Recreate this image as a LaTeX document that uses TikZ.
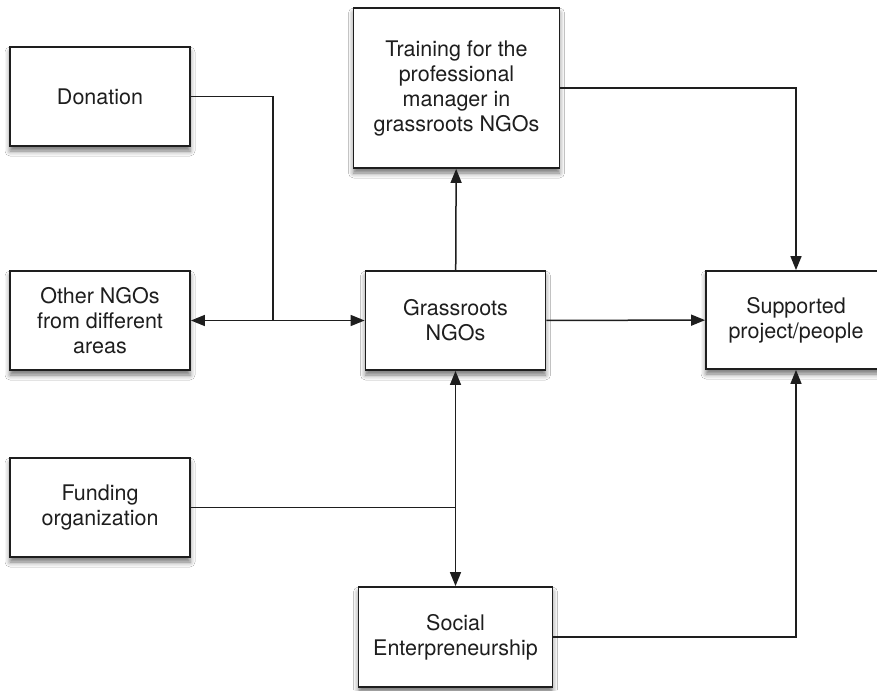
\documentclass[tikz,border=0pt]{standalone}
\usepackage{fontspec}
\setmainfont{TeX Gyre Heros}
\usetikzlibrary{arrows.meta,shadows.blur}
\definecolor{ink}{HTML}{1E1E1E}
\tikzset{
  box/.style={draw=ink, line width=1.8pt, fill=white, rectangle, align=center,
    text=ink, font=\fontsize{21.5}{25}\selectfont, inner sep=0pt,
    blur shadow={shadow xshift=0pt, shadow yshift=-5pt, shadow blur radius=5pt, shadow opacity=55}},
  conn/.style={draw=ink, line width=1.5pt, >={Triangle[length=14pt,width=11pt]}}
}
\begin{document}
\begin{tikzpicture}[x=1pt,y=-1pt]
\useasboundingbox (0,0) rectangle (877,690);
\fill[white] (0,0) rectangle (877,690);
\node[box, minimum width=180pt, minimum height=99pt] (donation) at (100,96.5) {Donation};
\node[box, minimum width=180pt, minimum height=99pt] (other) at (100,320.5) {Other NGOs\\from different\\areas};
\node[box, minimum width=180pt, minimum height=99pt] (funding) at (100,507.5) {Funding\\organization};
\node[box, minimum width=206pt, minimum height=160pt] (training) at (456.5,88) {Training for the\\professional\\manager in\\grassroots NGOs};
\node[box, minimum width=180pt, minimum height=99pt] (grass) at (455.5,320.5) {Grassroots\\NGOs};
\node[box, minimum width=180pt, minimum height=98pt] (supported) at (796,320) {Supported\\project/people};
\node[box, minimum width=194pt, minimum height=100pt] (social) at (455.5,637) {Social\\Enterpreneurship};
\coordinate (j1) at (273,320.5);
\coordinate (j2) at (455.5,507.5);
\draw[conn,<->] (other) -- (grass);
\draw[conn] (donation) -| (j1);
\draw[conn,->] (grass) -- (training);
\draw[conn,->] (training) -| (supported);
\draw[conn,->] (grass) -- (supported);
\draw[conn,<->] (grass) -- (social);
\draw[conn] (funding) -- (j2);
\draw[conn,->] (social) -| (supported);
\end{tikzpicture}
\end{document}
